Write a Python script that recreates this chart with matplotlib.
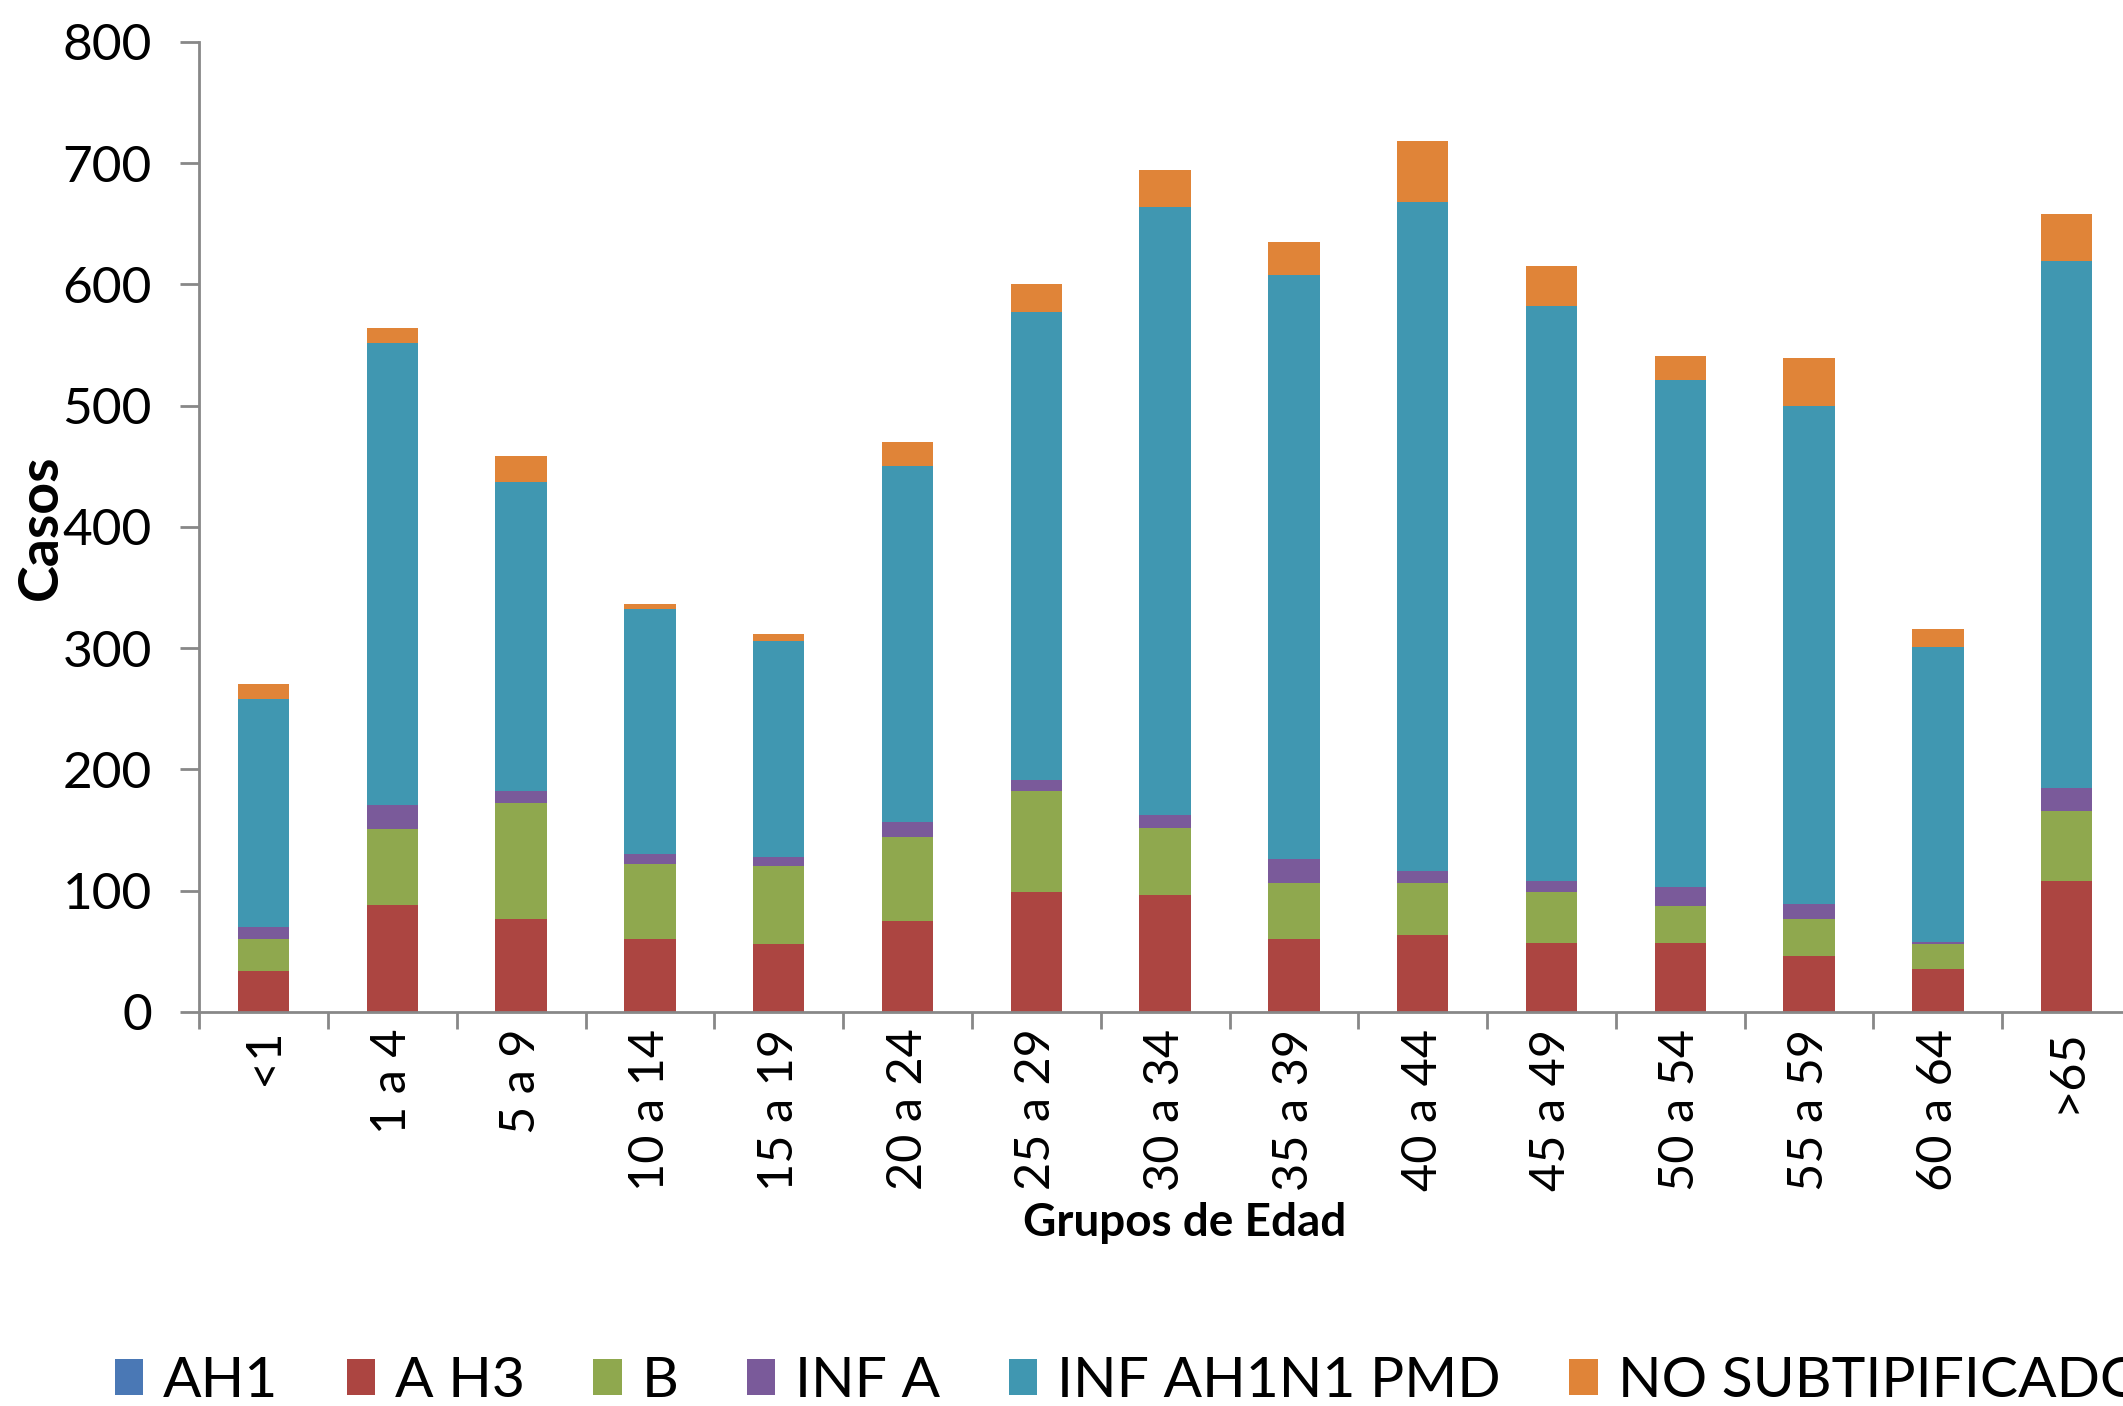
import matplotlib
matplotlib.use("Agg")
import matplotlib.pyplot as plt
import numpy as np

categories = ["<1", "1 a 4", "5 a 9", "10 a 14", "15 a 19", "20 a 24", "25 a 29",
              "30 a 34", "35 a 39", "40 a 44", "45 a 49", "50 a 54", "55 a 59",
              "60 a 64", ">65"]
ah1 = [0, 0, 0, 0, 0, 0, 0, 0, 0, 0, 0, 0, 0, 0, 0]
a_h3 = [34, 88, 77, 60, 56, 75, 99, 96, 60, 63, 57, 57, 46, 35, 108]
b = [26, 63, 95, 62, 64, 69, 83, 56, 46, 43, 42, 30, 31, 21, 58]
inf_a = [10, 20, 10, 8, 8, 13, 9, 10, 20, 10, 9, 16, 12, 2, 19]
inf_ah1n1 = [188, 381, 255, 202, 178, 293, 386, 502, 482, 552, 474, 418, 411, 243, 434]
no_sub = [12, 12, 21, 4, 6, 20, 23, 30, 27, 50, 33, 20, 39, 15, 39]

series_names = ["AH1", "A H3", "B", "INF A", "INF AH1N1 PMD", "NO SUBTIPIFICADO"]
series_vals = [ah1, a_h3, b, inf_a, inf_ah1n1, no_sub]
colors = ["#4A78B5", "#AC4541", "#8FA84E", "#7A5A9A", "#4097B1", "#E08438"]

plt.rcParams['font.family'] = ['Lato', 'DejaVu Sans']

fig = plt.figure(figsize=(21.23, 14.06), dpi=100)
ax = fig.add_axes([0.0938, 0.2803, 0.910, 0.690])

x = np.arange(len(categories))
bottom = np.zeros(len(categories))
handles = []
for name, vals, col in zip(series_names, series_vals, colors):
    v = np.array(vals, dtype=float)
    h = ax.bar(x, v, width=0.4, bottom=bottom, color=col, linewidth=0, label=name)
    handles.append(h)
    bottom += v

ax.set_xlim(-0.5, len(categories) - 0.5)
ax.set_ylim(0, 800)
ax.set_yticks(np.arange(0, 801, 100))
ax.tick_params(axis='y', labelsize=37, length=14, width=2, color='#888888', pad=20)

ax.set_xticks(x)
ax.set_xticklabels(categories, rotation=90, fontsize=35)
ax.tick_params(axis='x', which='major', length=0, pad=12)
ax.set_xticks(np.arange(-0.5, len(categories) - 0.5, 1.0), minor=True)
ax.tick_params(axis='x', which='minor', length=12, width=2, color='#888888', direction='out')
for lbl in ax.get_xticklabels():
    lbl.set_verticalalignment('top')
    lbl.set_horizontalalignment('center')

for s in ['top', 'right']:
    ax.spines[s].set_visible(False)
for s in ['left', 'bottom']:
    ax.spines[s].set_color('#888888')
    ax.spines[s].set_linewidth(2)

ax.set_ylabel("Casos", fontsize=40, fontweight='bold')
ax.yaxis.set_label_coords(-0.069, 0.5)
ax.set_xlabel("Grupos de Edad", fontsize=33, fontweight='bold')
ax.xaxis.set_label_coords(0.510, -0.218)
ax.xaxis.label.set_verticalalignment('center')

fig.legend(handles=handles, labels=series_names, loc='center left',
           bbox_to_anchor=(0.054, 0.0173), ncol=6, frameon=False,
           fontsize=41, handlelength=0.5, handleheight=0.6, handletextpad=0.35,
           columnspacing=1.2, borderpad=0, borderaxespad=0)

fig.savefig("out.png", dpi=100)
